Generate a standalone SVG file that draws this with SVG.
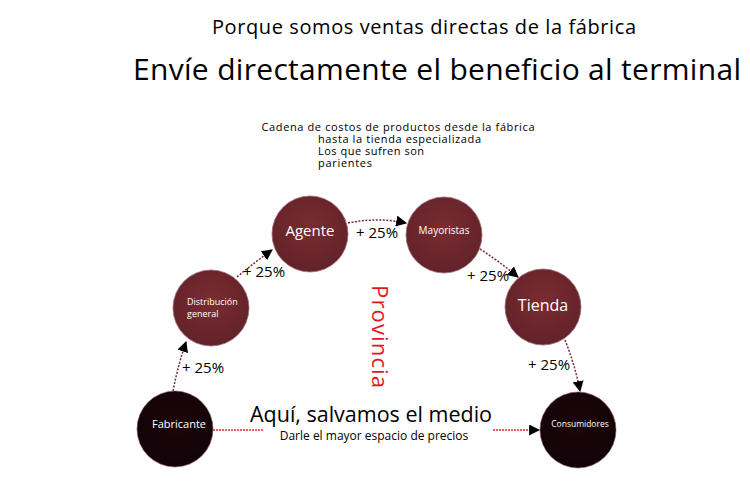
<svg xmlns="http://www.w3.org/2000/svg" width="750" height="500" viewBox="0 0 750 500">
<style>
text{font-family:"Open Sans","Liberation Sans",sans-serif;}
.t{fill:#000;}
.w{fill:#fff;text-anchor:middle;}
.pct{font-size:15px;fill:#000;}
.red{fill:url(#gr);stroke:#9a6a6e;stroke-width:0.8;}
.dark{fill:url(#gd);stroke:#8a4a55;stroke-width:0.6;}
.con{fill:none;stroke:#7a2a3a;stroke-width:1.5;stroke-dasharray:2 1.5;}
.base{fill:none;stroke:#e03030;stroke-width:1.5;stroke-dasharray:2 1;}
</style>
<defs>
<radialGradient id="gr" cx="0.5" cy="0.4" r="0.6">
<stop offset="0" stop-color="#7a2c30"/>
<stop offset="1" stop-color="#62222a"/>
</radialGradient>
<radialGradient id="gd" cx="0.5" cy="0.4" r="0.6">
<stop offset="0" stop-color="#1c0508"/>
<stop offset="1" stop-color="#120308"/>
</radialGradient>
<marker id="ah2" viewBox="0 0 10 10" refX="9" refY="5" markerWidth="11" markerHeight="11" orient="auto" markerUnits="userSpaceOnUse">
<path d="M0,0 L10,5 L0,10 z" fill="#000"/>
</marker>
</defs>
<rect width="750" height="500" fill="#fff"/>
<g id="titles">
<text x="424" y="34" font-size="20" text-anchor="middle" class="t" textLength="424">Porque somos ventas directas de la fábrica</text>
<text x="437" y="80" font-size="30" text-anchor="middle" class="t" textLength="608">Envíe directamente el beneficio al terminal</text>
<text x="398" y="131" font-size="11" text-anchor="middle" class="t" textLength="273">Cadena de costos de productos desde la fábrica</text>
<text x="318" y="143" font-size="11" class="t" textLength="163">hasta la tienda especializada</text>
<text x="318" y="155" font-size="11" class="t" textLength="106">Los que sufren son</text>
<text x="318" y="166.5" font-size="11" class="t" textLength="54">parientes</text>
<text transform="translate(372,285) rotate(90)" font-size="22" fill="#e8141c" textLength="103">Provincia</text>
</g>
<g id="connectors">
<path class="con" d="M173,391 Q178,365 186,342" marker-end="url(#ah2)"/>
<path class="con" d="M237,277 Q255,262 272,250" marker-end="url(#ah2)"/>
<path class="con" d="M348,223 Q377,217 406,223" marker-end="url(#ah2)"/>
<path class="con" d="M480,249 Q500,262 518,277" marker-end="url(#ah2)"/>
<path class="con" d="M565,340 Q575,365 580,391" marker-end="url(#ah2)"/>
<path class="base" d="M213,430 L263,430"/>
<path class="base" d="M493,430 L539,430" marker-end="url(#ah2)"/>
<text x="182" y="373" class="pct">+ 25%</text>
<text x="243" y="277" class="pct">+ 25%</text>
<text x="356" y="238" class="pct">+ 25%</text>
<text x="467" y="281" class="pct">+ 25%</text>
<text x="528" y="370" class="pct">+ 25%</text>
<text x="371" y="422" font-size="21.5" text-anchor="middle" class="t">Aquí, salvamos el medio</text>
<text x="374" y="440" font-size="12" text-anchor="middle" class="t">Darle el mayor espacio de precios</text>
</g>
<g id="fabricante">
<circle cx="175" cy="429" r="38" class="dark"/>
<text x="179" y="428" font-size="11" class="w">Fabricante</text>
</g>
<g id="distribucion">
<circle cx="211" cy="308" r="38" class="red"/>
<text x="187" y="305" font-size="9" fill="#fff">Distribución</text>
<text x="187" y="317" font-size="9" fill="#fff">general</text>
</g>
<g id="agente">
<circle cx="310" cy="234" r="38" class="red"/>
<text x="310" y="236" font-size="15" class="w">Agente</text>
</g>
<g id="mayoristas">
<circle cx="444" cy="235" r="38" class="red"/>
<text x="444" y="234" font-size="10" class="w">Mayoristas</text>
</g>
<g id="tienda">
<circle cx="543" cy="307" r="38" class="red"/>
<text x="543" y="311" font-size="16" class="w">Tienda</text>
</g>
<g id="consumidores">
<circle cx="578" cy="430" r="38" class="dark"/>
<text x="580" y="427" font-size="8.5" class="w">Consumidores</text>
</g>
</svg>
